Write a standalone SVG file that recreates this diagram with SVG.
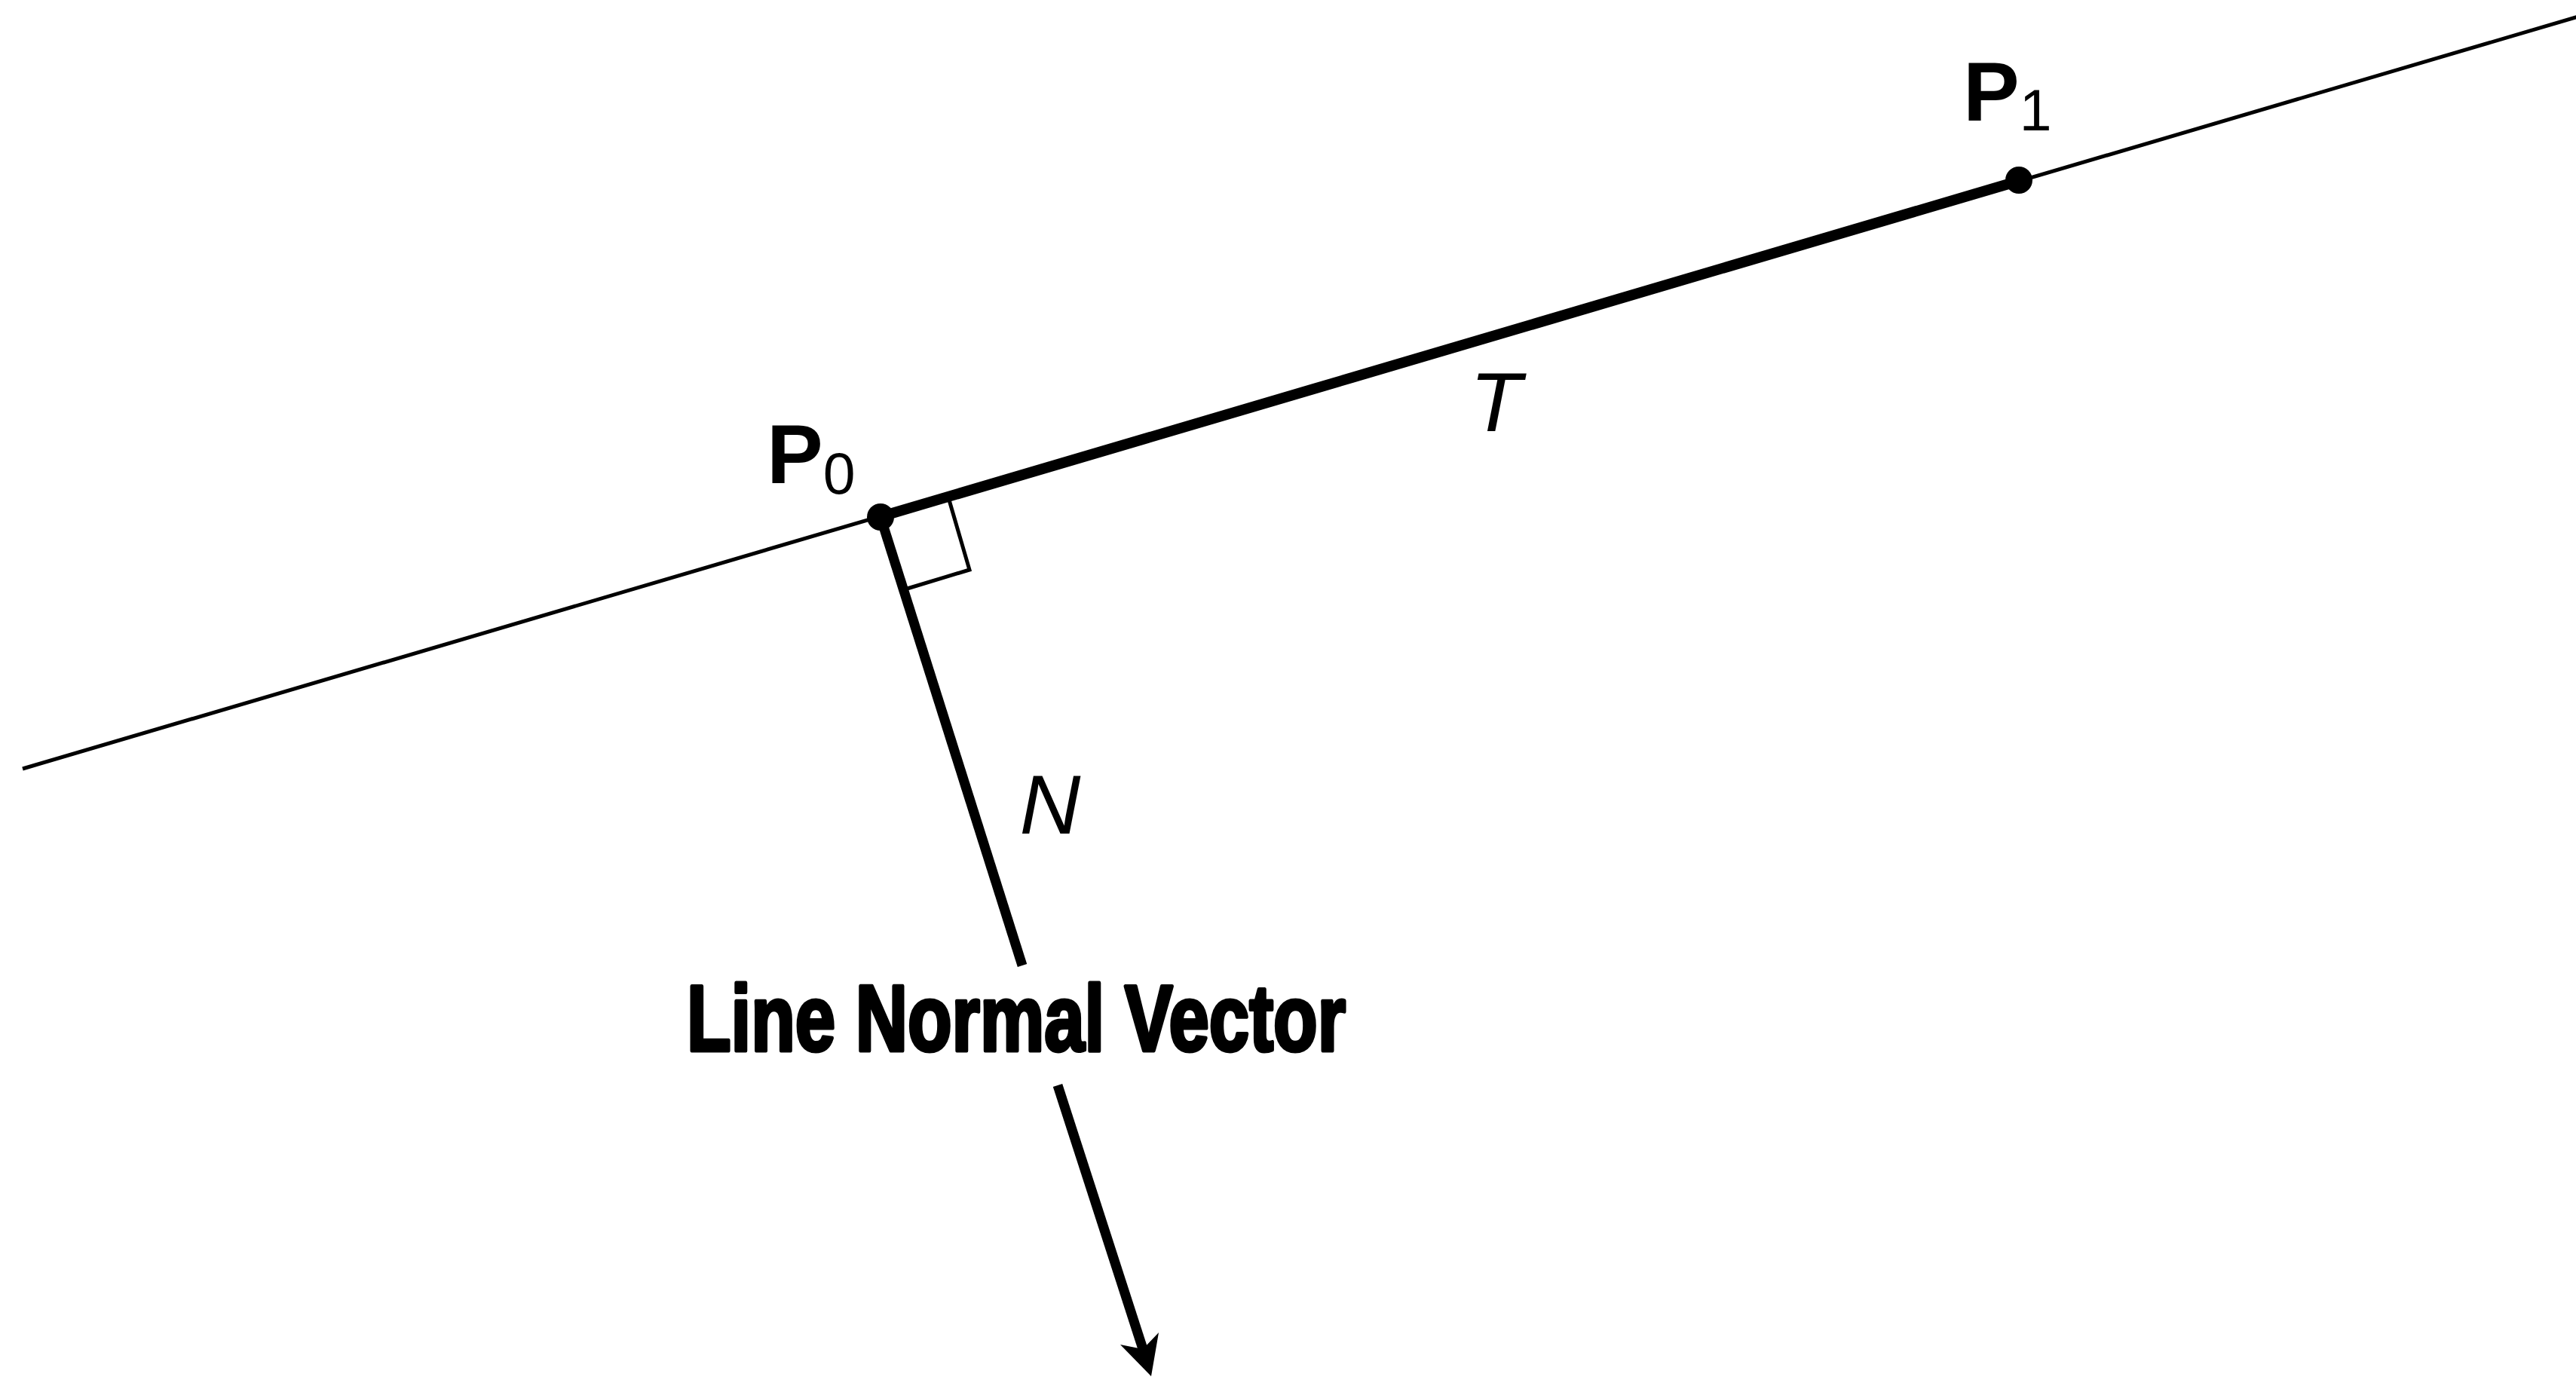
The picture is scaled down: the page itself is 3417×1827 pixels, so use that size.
<svg xmlns="http://www.w3.org/2000/svg" width="3417" height="1827" viewBox="0 0 3417 1827">
<style>
.lbl{font-family:"Liberation Sans",Arial,sans-serif;fill:#000}
.b{font-weight:bold}
.it{font-style:italic}
.sub{font-weight:normal;font-size:77px}
.ln{stroke:#000;fill:none}
</style>
<rect width="3417" height="1827" fill="#fff"/>
<g id="connectors">
  <line class="ln" x1="30" y1="1020" x2="3420" y2="22" stroke-width="5"/>
  <line class="ln" x1="1168" y1="685.5" x2="2678" y2="240" stroke-width="14"/>
  <polyline class="ln" points="1258,660 1286,756 1200,782" stroke-width="5"/>
  <line class="ln" x1="1168" y1="686" x2="1356" y2="1281" stroke-width="13"/>
  <line class="ln" x1="1403" y1="1440" x2="1518" y2="1796" stroke-width="13"/>
  <polygon points="1527,1826 1486,1784 1516,1790 1537,1768" fill="#000"/>
</g>
<g id="P0">
  <circle cx="1168" cy="686" r="18" fill="#000"/>
  <text class="lbl b" x="1017" y="641" font-size="112">P<tspan class="sub" dx="0" dy="14">0</tspan></text>
</g>
<g id="P1">
  <circle cx="2678" cy="239" r="18" fill="#000"/>
  <text class="lbl b" x="2604" y="160" font-size="112">P<tspan class="sub" dx="0" dy="13">1</tspan></text>
</g>
<g id="T">
  <text class="lbl it" x="1984" y="572" font-size="112" text-anchor="middle">T</text>
</g>
<g id="N">
  <text class="lbl it" x="1393" y="1106" font-size="112" text-anchor="middle">N</text>
</g>
<g id="caption">
  <text class="lbl b" x="911" y="1394" font-size="125" textLength="874" lengthAdjust="spacingAndGlyphs" stroke="#000" stroke-width="5" stroke-linejoin="round">Line Normal Vector</text>
</g>
</svg>
